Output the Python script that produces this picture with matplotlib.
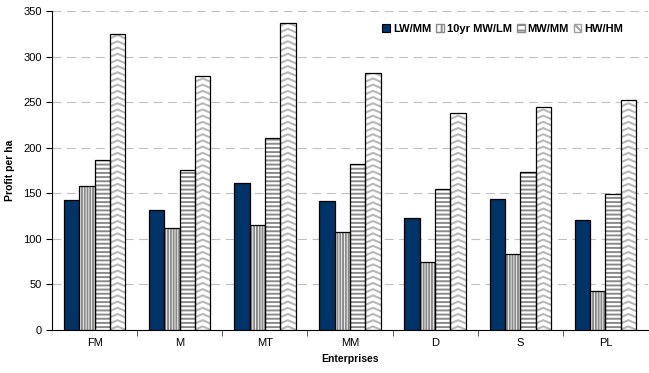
import numpy as np
import matplotlib
matplotlib.use('Agg')
import matplotlib.pyplot as plt
from matplotlib.patches import Patch

plt.rcParams['font.family'] = ['Liberation Sans', 'DejaVu Sans']

enterprises = ['FM', 'M', 'MT', 'MM', 'D', 'S', 'PL']
series_names = ['LW/MM', '10yr MW/LM', 'MW/MM', 'HW/HM']
lw_mm = [143, 132, 161, 141, 123, 144, 121]
mw_lm_10yr = [158, 112, 115, 107, 75, 83, 43]
mw_mm = [186, 176, 211, 182, 155, 173, 149]
hw_hm = [325, 279, 337, 282, 238, 245, 252]

NAVY = '#003366'
HATCH_GREY = '#8a8a8a'

fig = plt.figure(figsize=(6.49, 3.73), dpi=100)
ax = fig.add_axes([52 / 649, 43 / 373, 596 / 649, 319 / 373])

x = np.arange(len(enterprises))
width = 0.18
offsets = (np.arange(4) - 1.5) * width


def outline(bars):
    for b in bars:
        ax.add_patch(plt.Rectangle(b.get_xy(), b.get_width(), b.get_height(),
                                   fill=False, edgecolor='black', lw=0.9, zorder=4))


# solid navy series
bars = ax.bar(x + offsets[0], lw_mm, width, color=NAVY, edgecolor='black', lw=0.9, zorder=3)

# vertical stripes
plt.rcParams['hatch.linewidth'] = 1.4
bars = ax.bar(x + offsets[1], mw_lm_10yr, width, color='white', edgecolor=HATCH_GREY,
              hatch='||||||', lw=0, zorder=3)
outline(bars)

# horizontal stripes
bars = ax.bar(x + offsets[2], mw_mm, width, color='white', edgecolor=HATCH_GREY,
              hatch='----', lw=0, zorder=3)
outline(bars)

# zigzag fill, drawn as chevron lines clipped to each bar
bars = ax.bar(x + offsets[3], hw_hm, width, color='white', lw=0, zorder=3)
for b in bars:
    x0, w, h = b.get_x(), b.get_width(), b.get_height()
    xs = np.array([x0 - w * 0.05, x0 + w / 2, x0 + w * 1.05])
    step = 6.8
    for base in np.arange(-step, h + step, step):
        ys = base + np.array([0, 4.0, 0])
        ln, = ax.plot(xs, ys, color='#b8b8b8', lw=1.5, zorder=3.5)
        ln.set_clip_path(b)
outline(bars)

ax.set_xlim(-0.5, len(enterprises) - 0.5)
ax.set_ylim(0, 350)
ax.set_yticks(np.arange(0, 351, 50))
ax.set_xticks(x)
ax.set_xticklabels(enterprises)
ax.set_xticks(np.arange(0.5, len(enterprises) - 0.5, 1), minor=True)
ax.tick_params(axis='x', which='major', length=0, labelsize=8, pad=6)
ax.tick_params(axis='x', which='minor', length=4, direction='out', color='#404040')
ax.tick_params(axis='y', length=4, direction='out', labelsize=8)

ax.yaxis.grid(True, linestyle=(0, (8, 5)), color='#c0c0c0', lw=0.8)
ax.set_axisbelow(True)
for side in ['top', 'right']:
    ax.spines[side].set_visible(False)

ax.set_xlabel('Enterprises', fontsize=7.5, fontweight='bold', labelpad=4)
ax.set_ylabel('Profit per ha', fontsize=7.5, fontweight='bold', labelpad=6)

handles = [
    Patch(facecolor=NAVY, edgecolor='black', lw=0.8),
    Patch(facecolor='white', edgecolor=HATCH_GREY, hatch='|||'),
    Patch(facecolor='white', edgecolor=HATCH_GREY, hatch='---'),
    Patch(facecolor='white', edgecolor='#a0a0a0', hatch='\\\\'),
]
leg = ax.legend(handles, series_names, loc='upper right', bbox_to_anchor=(0.975, 0.99),
                ncol=4, frameon=False, prop={'weight': 'bold', 'size': 8},
                handlelength=0.7, handleheight=0.7, handletextpad=0.25, columnspacing=0.45)

fig.savefig('out.png', dpi=100)
